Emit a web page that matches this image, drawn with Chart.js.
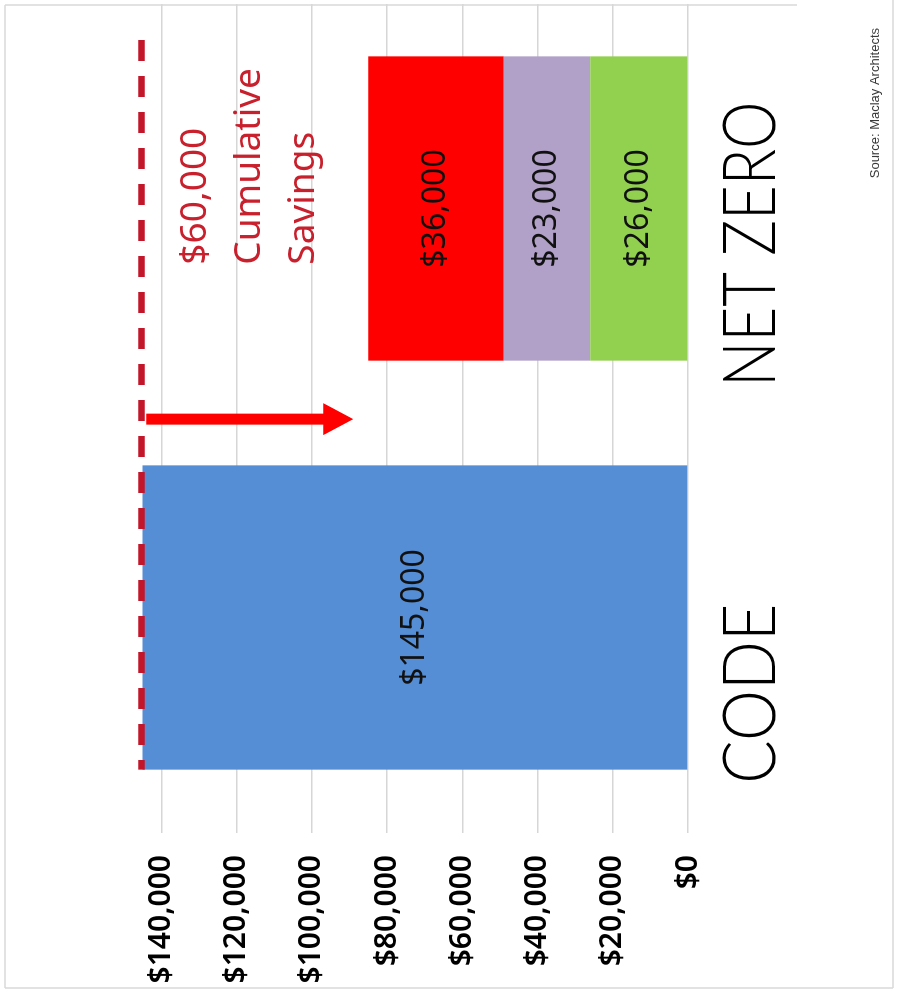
<!DOCTYPE html>
<html>
<head>
<meta charset="utf-8">
<script src="https://cdn.jsdelivr.net/npm/chart.js@4/dist/chart.umd.min.js"></script>
<style>
  html, body { margin: 0; padding: 0; background: #ffffff; overflow: hidden; }
  #frame { position: relative; width: 898px; height: 992px; overflow: hidden; background: #ffffff; }
  /* the chart is laid out as an upright column chart and turned a quarter turn counter-clockwise */
  #chart { position: absolute; left: 0; top: 0; transform-origin: 0 0; transform: translate(0, 992px) rotate(-90deg); }
</style>
</head>
<body>
<div id="frame"><canvas id="chart" width="992" height="898"></canvas></div>
<script>
// Building cost comparison: code-minimum building vs. net zero building
const categories = ['CODE', 'NET ZERO'];
const codeCost = [145000, null];
const netZeroGreen = [null, 26000];
const netZeroPurple = [null, 23000];
const netZeroRed = [null, 36000];
const tickValues = [0, 20000, 40000, 60000, 80000, 100000, 120000, 140000];
const savingsLevel = 145000;      // cost line carried across from the code building
const arrowEnd = 89000;           // arrow points down towards the net zero total
const savingsNote = ['$60,000', 'Cumulative', 'Savings'];
const sourceNote = 'Source: Maclay Architects';

const money = v => '$' + Number(v).toLocaleString('en-US');

// value labels centred in each bar segment
const segmentLabels = {
  id: 'segmentLabels',
  afterDatasetsDraw(chart) {
    const ctx = chart.ctx;
    ctx.save();
    ctx.font = '400 32px "Noto Sans", "Open Sans", sans-serif';
    ctx.fillStyle = '#111111';
    ctx.textAlign = 'center';
    ctx.textBaseline = 'middle';
    chart.data.datasets.forEach((ds, di) => {
      const meta = chart.getDatasetMeta(di);
      meta.data.forEach((bar, i) => {
        const v = ds.data[i];
        if (v === null || v === undefined) return;
        ctx.fillText(money(v), bar.x, (bar.y + bar.base) / 2);
      });
    });
    ctx.restore();
  }
};

// dashed cost line, savings arrow, notes, category names and frame
const overlays = {
  id: 'overlays',
  afterDraw(chart) {
    const ctx = chart.ctx;
    const xs = chart.scales.x;
    const ys = chart.scales.y;
    const area = chart.chartArea;
    const codeBar = chart.getDatasetMeta(0).data[0];
    const nzBar = chart.getDatasetMeta(1).data[1];
    const codeLeft = codeBar.x - codeBar.width / 2;
    const nzLeft = nzBar.x - nzBar.width / 2;
    ctx.save();

    // outer frame
    ctx.strokeStyle = '#d9d9d9';
    ctx.lineWidth = 1.5;
    ctx.beginPath();
    ctx.moveTo(4, 5); ctx.lineTo(987, 5);
    ctx.moveTo(987, 5); ctx.lineTo(987, 797);
    ctx.moveTo(4, 893); ctx.lineTo(992, 893);
    ctx.moveTo(4, 5); ctx.lineTo(4, 893);
    ctx.stroke();

    // dashed line at the code building cost
    const yLine = ys.getPixelForValue(savingsLevel) - 1;
    ctx.strokeStyle = '#c4162a';
    ctx.lineWidth = 6.5;
    ctx.setLineDash([21, 15]);
    ctx.beginPath();
    ctx.moveTo(area.right - 36, yLine);
    ctx.lineTo(codeLeft, yLine);
    ctx.stroke();
    ctx.setLineDash([]);

    // savings arrow
    const ax = xs.getPixelForValue(0.485);
    const y0 = ys.getPixelForValue(144000);
    const tip = ys.getPixelForValue(arrowEnd);
    const headLen = 30, headHalf = 16, shaftHalf = 5.5;
    ctx.fillStyle = '#ff0000';
    ctx.beginPath();
    ctx.moveTo(ax - shaftHalf, y0);
    ctx.lineTo(ax + shaftHalf, y0);
    ctx.lineTo(ax + shaftHalf, tip - headLen);
    ctx.lineTo(ax + headHalf, tip - headLen);
    ctx.lineTo(ax, tip);
    ctx.lineTo(ax - headHalf, tip - headLen);
    ctx.lineTo(ax - shaftHalf, tip - headLen);
    ctx.closePath();
    ctx.fill();

    // savings note
    ctx.fillStyle = '#c8202c';
    ctx.font = '400 37px "Noto Sans", "Open Sans", sans-serif';
    ctx.textAlign = 'left';
    ctx.textBaseline = 'middle';
    const noteX = nzLeft + 96;
    const noteY = [131000, 116500, 102300];
    savingsNote.forEach((line, i) => ctx.fillText(line, noteX, ys.getPixelForValue(noteY[i])));

    // category names
    ctx.fillStyle = '#000000';
    ctx.font = '300 72px Lato, "DejaVu Sans", sans-serif';
    ctx.textBaseline = 'alphabetic';
    ctx.textAlign = 'left';
    const nameY = area.bottom + 87;
    const nameShift = [-14, -26];
    chart.getDatasetMeta(0).data.forEach((bar, i) => {
      const left = bar.x - bar.width / 2 + nameShift[i];
      ctx.fillText(categories[i], left, nameY, i === 0 ? 180 : 285);
    });

    // source credit
    ctx.fillStyle = '#3a3a3a';
    ctx.font = '13px "Liberation Sans Narrow", "Liberation Sans", sans-serif';
    ctx.textAlign = 'right';
    ctx.textBaseline = 'middle';
    ctx.fillText(sourceNote, 964, 875);

    ctx.restore();
  }
};

new Chart(document.getElementById('chart'), {
  type: 'bar',
  data: {
    labels: categories,
    datasets: [
      { label: 'Code building', data: codeCost, backgroundColor: '#558ed5' },
      { label: 'Net zero – green', data: netZeroGreen, backgroundColor: '#92d050' },
      { label: 'Net zero – purple', data: netZeroPurple, backgroundColor: '#b1a0c7' },
      { label: 'Net zero – red', data: netZeroRed, backgroundColor: '#ff0000' }
    ]
  },
  options: {
    responsive: false,
    devicePixelRatio: 1,
    animation: false,
    layout: { padding: { top: 86, bottom: 210, left: 0, right: 4 } },
    datasets: { bar: { barPercentage: 0.744, categoryPercentage: 1, borderWidth: 0 } },
    plugins: { legend: { display: false }, tooltip: { enabled: false } },
    scales: {
      x: { stacked: true, display: false },
      y: {
        stacked: true,
        min: 0,
        max: 160000,
        afterBuildTicks: s => { s.ticks = tickValues.map(v => ({ value: v })); },
        afterFit: s => { s.width = 170; },
        border: { display: false },
        grid: { color: '#d6d6d6', lineWidth: 1.5, tickLength: 11, drawTicks: true },
        ticks: {
          padding: 22,
          color: '#000000',
          font: { family: '"Noto Sans", "Open Sans", sans-serif', size: 30, weight: '600' },
          callback: v => money(v)
        }
      }
    }
  },
  plugins: [segmentLabels, overlays]
});
</script>
</body>
</html>
